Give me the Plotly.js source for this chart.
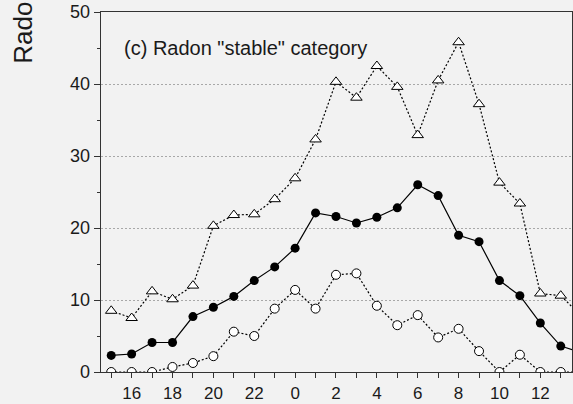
<!DOCTYPE html>
<html>
<head>
<meta charset="utf-8">
<script src="https://cdn.plot.ly/plotly-3.0.1.min.js"></script>
<style>
  html, body { margin: 0; padding: 0; background: #f2f2f2; }
  #chart { width: 573px; height: 404px; }
</style>
</head>
<body>
<div id="chart"></div>
<script>
// Hour of day, starting mid-afternoon and wrapping past midnight
const hours = [15, 16, 17, 18, 19, 20, 21, 22, 23, 0, 1, 2, 3, 4, 5, 6, 7, 8, 9, 10, 11, 12, 13, 14];

// Radon, "stable" category: mean and the upper / lower bands
const stableMean = [2.3, 2.5, 4.1, 4.1, 7.7, 9.0, 10.5, 12.7, 14.6, 17.2, 22.1, 21.6, 20.7, 21.5, 22.8, 26.0, 24.5, 19.0, 18.1, 12.7, 10.6, 6.8, 3.6, 2.7];
const stableUpper = [8.5, 7.5, 11.2, 10.1, 12.0, 20.3, 21.8, 21.9, 24.0, 26.9, 32.3, 40.3, 38.1, 42.5, 39.6, 32.9, 40.5, 45.8, 37.2, 26.3, 23.4, 10.9, 10.6, 7.8];
const stableLower = [0, 0, 0, 0.7, 1.25, 2.2, 5.6, 5.0, 8.8, 11.4, 8.8, 13.5, 13.7, 9.2, 6.5, 7.9, 4.8, 6.0, 2.9, 0, 2.4, 0, 0, 0];

// Labels every two hours, from 16 onwards
const labelledHours = [16, 18, 20, 22, 0, 2, 4, 6, 8, 10, 12];

const pos = hours.map((h, i) => i);
const tickText = hours.map(h => labelledHours.includes(h) ? String(h) : '');

const FONT = 'Liberation Sans, Arial, sans-serif';
const DOTS = '2px,2px';

const traces = [
  {
    x: pos, y: stableUpper, type: 'scatter', mode: 'lines+markers',
    line: { color: '#000', width: 1.2, dash: DOTS },
    marker: { symbol: 'triangle-up', size: 10, color: '#fff', line: { color: '#000', width: 1 } },
    hoverinfo: 'skip'
  },
  {
    x: pos, y: stableLower, type: 'scatter', mode: 'lines+markers',
    line: { color: '#000', width: 1.2, dash: DOTS },
    marker: { symbol: 'circle', size: 9, color: '#fff', line: { color: '#000', width: 1 } },
    hoverinfo: 'skip'
  },
  {
    x: pos, y: stableMean, type: 'scatter', mode: 'lines+markers',
    line: { color: '#000', width: 1.2 },
    marker: { symbol: 'circle', size: 9, color: '#000', line: { color: '#000', width: 0 } },
    hoverinfo: 'skip'
  }
];

const layout = {
  width: 573, height: 404,
  margin: { l: 101, r: 1, t: 12, b: 32, pad: 0 },
  paper_bgcolor: '#f2f2f2',
  plot_bgcolor: '#f2f2f2',
  showlegend: false,
  font: { family: FONT, color: '#1a1a1a', size: 17 },
  xaxis: {
    range: [-0.5, 22.55],
    tickmode: 'array',
    tickvals: pos,
    ticktext: tickText,
    ticks: 'outside', ticklen: 5, tickwidth: 1, tickcolor: '#333',
    showline: true, linecolor: '#333', linewidth: 1.3, mirror: true,
    showgrid: false, zeroline: false,
    tickfont: { family: FONT, size: 17, color: '#1a1a1a' }
  },
  yaxis: {
    range: [0, 50],
    tickmode: 'linear', tick0: 0, dtick: 10,
    ticks: 'outside', ticklen: 6, tickwidth: 1, tickcolor: '#333',
    minor: { dtick: 5, ticks: 'outside', ticklen: 3, tickcolor: '#333', showgrid: false },
    showline: true, linecolor: '#333', linewidth: 1.3, mirror: true,
    showgrid: true, gridcolor: '#a8a8a8', griddash: DOTS, gridwidth: 1,
    zeroline: false,
    tickfont: { family: FONT, size: 18, color: '#1a1a1a' }
  },
  annotations: [
    {
      text: '(c) Radon "stable" category',
      xref: 'paper', yref: 'paper', x: 0.044, y: 0.9,
      xanchor: 'left', yanchor: 'middle', showarrow: false,
      font: { family: FONT, size: 20, color: '#1a1a1a' }
    },
    {
      text: 'Radon concentration (Bq m<sup>-3</sup>)',
      xref: 'paper', yref: 'paper', x: -0.168, y: 0.852,
      xanchor: 'center', yanchor: 'bottom', textangle: -90, showarrow: false,
      font: { family: FONT, size: 26, color: '#1a1a1a' }
    }
  ]
};

Plotly.newPlot('chart', traces, layout, { displayModeBar: false, staticPlot: true });
</script>
</body>
</html>
